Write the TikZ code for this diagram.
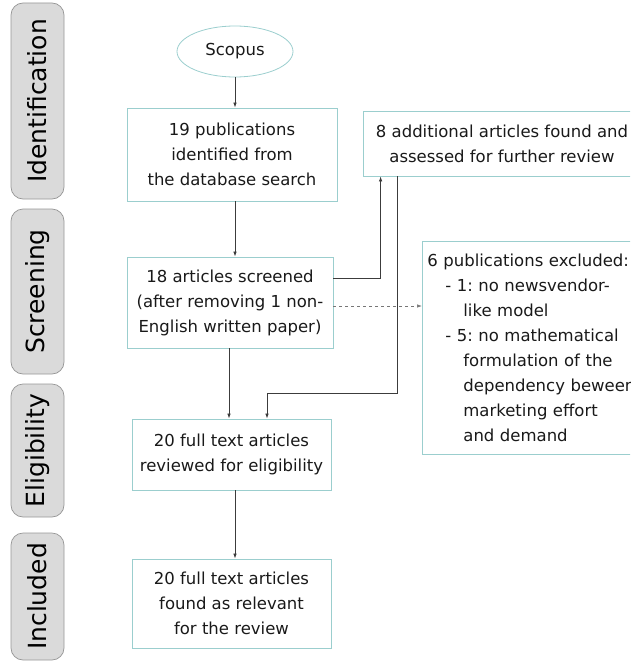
\documentclass[tikz,border=0pt]{standalone}
\usepackage{fontspec}
\setmainfont{DejaVu Sans}
\usetikzlibrary{shapes.geometric,arrows.meta}
\frenchspacing

\definecolor{boxline}{RGB}{155,206,206}
\definecolor{phasefill}{RGB}{218,218,218}
\definecolor{phaseline}{RGB}{150,150,150}
\definecolor{arrowgray}{RGB}{60,60,60}

\begin{document}
\begin{tikzpicture}[x=1pt,y=-1pt,
    box/.style = {draw=boxline, line width=0.8pt, align=center, text=black!90,
                  font=\fontsize{16.5}{25}\selectfont},
    phase/.style = {draw=phaseline, fill=phasefill, rounded corners=12pt, rotate=90,
                    minimum height=53pt, line width=0.7pt,
                    font=\fontsize{25}{30}\selectfont},
    link/.style = {draw=arrowgray, line width=0.7pt},
    >={Latex[length=5pt,width=3.5pt]}]
        \useasboundingbox (0,0) rectangle (630,661);
        \clip (0,0) rectangle (630,661);
        % phases
        \node[phase, minimum width=196pt] (pid) at (37.5,101) {Identification};
        \node[phase, minimum width=165pt] (pscr) at (37.5,291.5) {Screening};
        \node[phase, minimum width=133pt] (pelig) at (37.5,450.5) {Eligibility};
        \node[phase, minimum width=127pt] (pincl) at (37.5,596.5) {Included};
        % flow boxes
        \node[box, ellipse, minimum width=116pt, minimum height=51pt] (scopus) at (235,51.5) {Scopus};
        \node[box, minimum width=210pt, minimum height=93pt] (ident) at (232,154.5)
            {19 publications\\identified from\\the database search};
        \node[box, minimum width=206pt, minimum height=91pt] (scr) at (230,302.5)
            {18 articles screened\\(after removing 1 non-\\English written paper)};
        \node[box, minimum width=278pt, minimum height=65pt] (add) at (502,143.5)
            {8 additional articles found and\\assessed for further review};
        \node[box, align=left, anchor=north west, minimum width=240pt, minimum height=213pt,
              text width=230pt, inner xsep=5pt] (excl) at (422,241)
            {6 publications excluded:\\
             \hspace*{18pt}- 1: no newsvendor-\\
             \hspace*{36pt}like model\\
             \hspace*{18pt}- 5: no mathematical\\
             \hspace*{36pt}formulation of the\\
             \hspace*{36pt}dependency beween\\
             \hspace*{36pt}marketing effort\\
             \hspace*{36pt}and demand};
        \node[box, minimum width=199pt, minimum height=71pt] (elig) at (231.5,454.5)
            {20 full text articles\\reviewed for eligibility};
        \node[box, minimum width=199pt, minimum height=89pt] (incl) at (231.5,603.5)
            {20 full text articles\\found as relevant\\for the review};
        % connectors
        \draw[link,->] (scopus) -- (ident.north -| scopus);
        \draw[link,->] ([xshift=3pt]ident.south) -- ([xshift=5pt]scr.north);
        \draw[link,->] ([yshift=24.5pt]scr.east) -| ([xshift=18pt]add.south west);
        \draw[link,->] ([xshift=35pt]add.south west) -- ++(0,217) -| ([xshift=35.5pt]elig.north);
        \draw[link,->] ([xshift=-1pt]scr.south) -- ([xshift=-1pt]scr.south |- elig.north);
        \draw[link,->,dashed,draw=arrowgray!70] ([yshift=-3.5pt]scr.east) -- ([yshift=-3.5pt]scr.east -| excl.west);
        \draw[link,->] ([xshift=3.5pt]elig.south) -- ([xshift=3.5pt]incl.north);
\end{tikzpicture}
\end{document}
